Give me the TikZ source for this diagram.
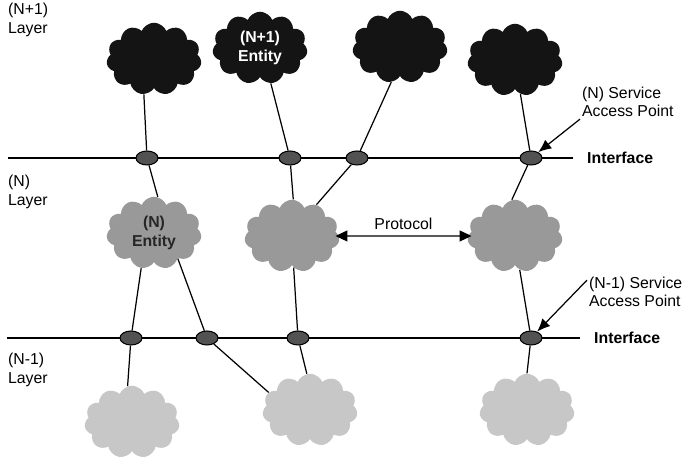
\documentclass[tikz,border=0pt]{standalone}
\usepackage{fontspec}
\setmainfont{Liberation Sans}
\usetikzlibrary{
    arrows.meta,
    positioning,
    shapes.geometric,
    shapes.symbols
}
\tikzset{
    iface/.style={line width=1.5pt, black},
    link/.style={line width=0.7pt, black},
    sap/.style={ellipse, draw=black, line width=0.6pt, fill=black!68,
        minimum width=0.44cm, minimum height=0.28cm, inner sep=0pt},
    blob/.style={cloud, cloud puffs=11, cloud puff arc=135, aspect=1.6,
        minimum width=1.9cm, minimum height=1.45cm, inner sep=0pt},
    upper/.style={blob, fill=black!92},
    middle/.style={blob, fill=black!40},
    lower/.style={blob, fill=black!22},
    pointer/.style={-{Latex[length=2.6mm, width=2.2mm]}, line width=0.7pt},
    protoarrow/.style={{Triangle[length=2.4mm, width=2.2mm]}-{Triangle[length=2.4mm, width=2.2mm]}, line width=0.7pt},
    note/.style={font=\fontsize{9}{10.5}\selectfont, align=left, inner sep=1pt},
    tag/.style={font=\fontsize{9}{10.5}\selectfont\bfseries, align=center}
}

\begin{document}
\begin{tikzpicture}
    \useasboundingbox (0,0) rectangle (13.7,9.16);
    % layer names
    \node[note, anchor=west] (lyUp) at (0.12,8.76) {(N+1)\\Layer};
    \node[note, anchor=west] (lyMid) at (0.12,5.32) {(N)\\Layer};
    \node[note, anchor=west] (lyLow) at (0.12,1.76) {(N-1)\\Layer};
    % the two interfaces
    \coordinate (ifTl) at (0.16,6.0);
    \coordinate (ifTr) at (11.46,6.0);
    \coordinate (ifBl) at (0.14,2.4);
    \coordinate (ifBr) at (11.6,2.4);
    \draw[iface] (ifTl) -- (ifTr);
    \draw[iface] (ifBl) -- (ifBr);
    \node[tag, anchor=west] (ifTop) at (11.62,6.0) {Interface};
    \node[tag, anchor=west] (ifBot) at (11.76,2.4) {Interface};
    % service access points
    \node[sap] (sT1) at (2.94,6.0) {};
    \node[sap] (sT2) at (5.80,6.0) {};
    \node[sap] (sT3) at (7.14,6.0) {};
    \node[sap] (sT4) at (10.62,6.0) {};
    \node[sap] (sB1) at (2.62,2.4) {};
    \node[sap] (sB2) at (4.14,2.4) {};
    \node[sap] (sB3) at (5.96,2.4) {};
    \node[sap] (sB4) at (10.62,2.4) {};
    % entities
    \node[upper] (cA) at (3.08,7.98) {};
    \node[upper, text=white, tag] (cB) at (5.20,8.20) {(N+1)\\Entity};
    \node[upper] (cC) at (8.00,8.22) {};
    \node[upper] (cD) at (10.30,7.96) {};
    \node[middle, text=black!85, tag] (gA) at (3.08,4.50) {(N)\\Entity};
    \node[middle] (gB) at (5.84,4.44) {};
    \node[middle] (gC) at (10.30,4.44) {};
    \node[lower] (lA) at (2.64,0.72) {};
    \node[lower] (lB) at (6.20,0.96) {};
    \node[lower] (lC) at (10.54,0.96) {};
    % links
    \draw[link] (sT1) -- (cA.254);
    \draw[link] (sT2) -- (cB.287);
    \draw[link] (sT3) -- (cC.256);
    \draw[link] (sT4) -- (cD.279);
    \draw[link] (sT1) -- (gA.84);
    \draw[link] (sT2) -- (gB.88);
    \draw[link] (sT3) -- (gB.52);
    \draw[link] (sT4) -- (gC.95);
    \draw[link] (gA.250) -- (sB1);
    \draw[link] (gA.313) -- (sB2);
    \draw[link] (gB.273) -- (sB3);
    \draw[link] (gC.278) -- (sB4);
    \draw[link] (sB1) -- (lA.97);
    \draw[link] (sB2) -- (lB.157);
    \draw[link] (sB3) -- (lB.95);
    \draw[link] (sB4) -- (lC.90);
    \draw[protoarrow, shorten <=-2pt, shorten >=-2pt] (gB) -- node[note, above=2pt] (proto) {Protocol} (gC);
    % access point labels
    \node[note, anchor=west] (lblTop) at (11.6,7.12) {(N) Service\\Access Point};
    \node[note, anchor=west] (lblBot) at (11.74,3.32) {(N-1) Service\\Access Point};
    \draw[pointer] (lblTop.south west) -- (sT4);
    \draw[pointer] ([yshift=-3pt]lblBot.north west) -- (sB4);
\end{tikzpicture}
\end{document}
